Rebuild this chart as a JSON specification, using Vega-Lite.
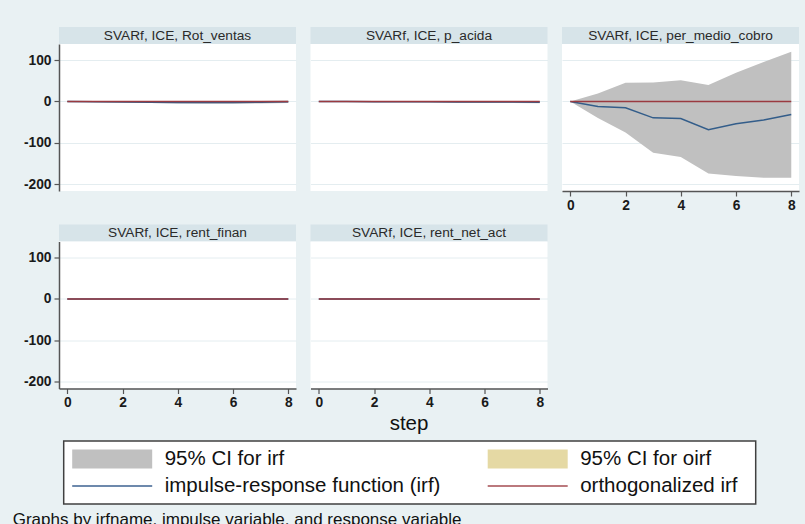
{
  "$schema": "https://vega.github.io/schema/vega-lite/v6.json",
  "background": "#e9f1f3",
  "padding": {"left": 12, "top": 27, "right": 7, "bottom": 0},
  "config": {
    "font": "Liberation Sans",
    "view": {"stroke": null, "fill": "white"},
    "axis": {
      "labelFont": "Liberation Sans",
      "labelFontSize": 13.8,
      "labelFontWeight": "bold",
      "labelColor": "#1a1a1a",
      "domainColor": "#555555",
      "domainWidth": 1.5,
      "tickColor": "#555555",
      "tickWidth": 1.2,
      "tickSize": 5,
      "gridColor": "#e4edf0",
      "gridWidth": 1,
      "labelExpr": "replace(datum.label, '\u2212', '-')"
    },
    "axisY": {"labelPadding": 3},
    "axisX": {"labelPadding": 2}
  },
  "datasets": {
    "irf": [
      {"p": "Rot_ventas", "step": 0, "irf": 0, "lo": 0, "hi": 0, "oirf": 0},
      {"p": "Rot_ventas", "step": 1, "irf": -0.6, "lo": -1.6, "hi": 0.4, "oirf": 0},
      {"p": "Rot_ventas", "step": 2, "irf": -1.2, "lo": -2.7, "hi": 0.3, "oirf": 0},
      {"p": "Rot_ventas", "step": 3, "irf": -1.8, "lo": -3.8, "hi": 0.2, "oirf": 0},
      {"p": "Rot_ventas", "step": 4, "irf": -2.2, "lo": -4.7, "hi": 0.3, "oirf": 0},
      {"p": "Rot_ventas", "step": 5, "irf": -2.4, "lo": -5.2, "hi": 0.4, "oirf": 0},
      {"p": "Rot_ventas", "step": 6, "irf": -2.2, "lo": -5.2, "hi": 0.8, "oirf": 0},
      {"p": "Rot_ventas", "step": 7, "irf": -1.6, "lo": -4.6, "hi": 1.4, "oirf": 0},
      {"p": "Rot_ventas", "step": 8, "irf": -0.6, "lo": -3.6, "hi": 2.4, "oirf": 0},
      {"p": "p_acida", "step": 0, "irf": 0, "lo": 0, "hi": 0, "oirf": 0},
      {"p": "p_acida", "step": 1, "irf": -0.2, "lo": -1.0, "hi": 0.6, "oirf": 0},
      {"p": "p_acida", "step": 2, "irf": -0.4, "lo": -1.6, "hi": 0.8, "oirf": 0},
      {"p": "p_acida", "step": 3, "irf": -0.6, "lo": -2.1, "hi": 0.9, "oirf": 0},
      {"p": "p_acida", "step": 4, "irf": -0.8, "lo": -2.6, "hi": 1.0, "oirf": 0},
      {"p": "p_acida", "step": 5, "irf": -1.0, "lo": -3.0, "hi": 1.0, "oirf": 0},
      {"p": "p_acida", "step": 6, "irf": -1.2, "lo": -3.4, "hi": 1.0, "oirf": 0},
      {"p": "p_acida", "step": 7, "irf": -1.5, "lo": -3.9, "hi": 0.9, "oirf": 0},
      {"p": "p_acida", "step": 8, "irf": -1.8, "lo": -4.4, "hi": 0.8, "oirf": 0},
      {"p": "per_medio_cobro", "step": 0, "irf": 0, "lo": 0, "hi": 0, "oirf": 0},
      {"p": "per_medio_cobro", "step": 1, "irf": -12, "lo": -40, "hi": 19, "oirf": 0},
      {"p": "per_medio_cobro", "step": 2, "irf": -15, "lo": -75, "hi": 45, "oirf": 0},
      {"p": "per_medio_cobro", "step": 3, "irf": -39.5, "lo": -123.5, "hi": 46, "oirf": 0},
      {"p": "per_medio_cobro", "step": 4, "irf": -41, "lo": -134, "hi": 51.5, "oirf": 0},
      {"p": "per_medio_cobro", "step": 5, "irf": -68, "lo": -173.5, "hi": 39.5, "oirf": 0},
      {"p": "per_medio_cobro", "step": 6, "irf": -54, "lo": -180, "hi": 69.5, "oirf": 0},
      {"p": "per_medio_cobro", "step": 7, "irf": -44.5, "lo": -184, "hi": 95, "oirf": 0},
      {"p": "per_medio_cobro", "step": 8, "irf": -31.5, "lo": -184, "hi": 120, "oirf": 0},
      {"p": "rent_finan", "step": 0, "irf": 0, "lo": 0, "hi": 0, "oirf": 0},
      {"p": "rent_finan", "step": 1, "irf": 0.1, "lo": -0.4, "hi": 0.6, "oirf": 0},
      {"p": "rent_finan", "step": 2, "irf": 0.2, "lo": -0.5, "hi": 0.9, "oirf": 0},
      {"p": "rent_finan", "step": 3, "irf": 0.2, "lo": -0.6, "hi": 1.0, "oirf": 0},
      {"p": "rent_finan", "step": 4, "irf": 0.2, "lo": -0.7, "hi": 1.1, "oirf": 0},
      {"p": "rent_finan", "step": 5, "irf": 0.2, "lo": -0.8, "hi": 1.2, "oirf": 0},
      {"p": "rent_finan", "step": 6, "irf": 0.1, "lo": -0.9, "hi": 1.1, "oirf": 0},
      {"p": "rent_finan", "step": 7, "irf": 0.1, "lo": -1.0, "hi": 1.2, "oirf": 0},
      {"p": "rent_finan", "step": 8, "irf": 0.1, "lo": -1.0, "hi": 1.2, "oirf": 0},
      {"p": "rent_net_act", "step": 0, "irf": 0, "lo": 0, "hi": 0, "oirf": 0},
      {"p": "rent_net_act", "step": 1, "irf": -0.1, "lo": -0.5, "hi": 0.3, "oirf": 0},
      {"p": "rent_net_act", "step": 2, "irf": -0.1, "lo": -0.6, "hi": 0.4, "oirf": 0},
      {"p": "rent_net_act", "step": 3, "irf": -0.2, "lo": -0.8, "hi": 0.4, "oirf": 0},
      {"p": "rent_net_act", "step": 4, "irf": -0.2, "lo": -0.9, "hi": 0.5, "oirf": 0},
      {"p": "rent_net_act", "step": 5, "irf": -0.2, "lo": -1.0, "hi": 0.6, "oirf": 0},
      {"p": "rent_net_act", "step": 6, "irf": -0.2, "lo": -1.0, "hi": 0.6, "oirf": 0},
      {"p": "rent_net_act", "step": 7, "irf": -0.1, "lo": -1.0, "hi": 0.8, "oirf": 0},
      {"p": "rent_net_act", "step": 8, "irf": -0.1, "lo": -1.0, "hi": 0.8, "oirf": 0}
    ],
    "leg": [
      {"label": "95% CI for irf", "c": 1, "r": 1, "k": "area"},
      {"label": "95% CI for oirf", "c": 2, "r": 1, "k": "area"},
      {"label": "impulse-response function (irf)", "c": 1, "r": 2, "k": "line"},
      {"label": "orthogonalized irf", "c": 2, "r": 2, "k": "line"}
    ]
  },
  "title": {
    "text": "Graphs by irfname, impulse variable, and response variable",
    "orient": "bottom", "anchor": "start", "frame": "group",
    "dx": -46.3, "offset": 7, "baseline": "top",
    "fontSize": 17, "fontWeight": "normal", "color": "#111111", "font": "Liberation Sans"
  },
  "spacing": 6,
  "vconcat": [
    {
      "spacing": 12.5,
      "vconcat": [
        {
          "spacing": 14.5,
          "hconcat": [
            {
              "spacing": 0,
              "vconcat": [
                {"width": 237, "height": 17, "view": {"fill": "#d7e4e9", "stroke": null},
                 "data": {"values": [{"t": "SVARf, ICE, Rot_ventas"}]},
                 "mark": {"type": "text", "fontSize": 13.7, "color": "#2a2a2a", "font": "Liberation Sans"},
                 "encoding": {"text": {"field": "t"}}},
                {"width": 237, "height": 147,
                 "data": {"name": "irf"},
                 "transform": [{"filter": "datum.p == 'Rot_ventas'"}],
                 "encoding": {"x": {"field": "step", "type": "quantitative", "scale": {"domain": [-0.3, 8.28], "nice": false, "zero": false}, "axis": null}},
                 "layer": [
                   {"mark": {"type": "area", "color": "#c0c0c0", "opacity": 1},
                    "encoding": {"y": {"field": "lo", "type": "quantitative", "scale": {"domain": [-216, 138.7], "nice": false, "zero": false},
                      "axis": {"values": [-200, -100, 0, 100], "grid": true, "title": null}},
                      "y2": {"field": "hi"}}},
                   {"mark": {"type": "line", "color": "#335d8a", "strokeWidth": 1.5},
                    "encoding": {"y": {"field": "irf", "type": "quantitative", "axis": {"values": [-200, -100, 0, 100], "grid": true, "title": null}}}},
                   {"mark": {"type": "line", "color": "#9a3a40", "strokeWidth": 1.5},
                    "encoding": {"y": {"field": "oirf", "type": "quantitative", "axis": {"values": [-200, -100, 0, 100], "grid": true, "title": null}}}}
                 ]}
              ]
            },
            {
              "spacing": 0,
              "vconcat": [
                {"width": 237, "height": 17, "view": {"fill": "#d7e4e9", "stroke": null},
                 "data": {"values": [{"t": "SVARf, ICE, p_acida"}]},
                 "mark": {"type": "text", "fontSize": 13.7, "color": "#2a2a2a", "font": "Liberation Sans"},
                 "encoding": {"text": {"field": "t"}}},
                {"width": 237, "height": 147,
                 "data": {"name": "irf"},
                 "transform": [{"filter": "datum.p == 'p_acida'"}],
                 "encoding": {"x": {"field": "step", "type": "quantitative", "scale": {"domain": [-0.3, 8.28], "nice": false, "zero": false}, "axis": null}},
                 "layer": [
                   {"mark": {"type": "area", "color": "#c0c0c0", "opacity": 1},
                    "encoding": {"y": {"field": "lo", "type": "quantitative", "scale": {"domain": [-216, 138.7], "nice": false, "zero": false},
                      "axis": {"values": [-200, -100, 0, 100], "grid": true, "labels": false, "ticks": false, "domain": false, "title": null}},
                      "y2": {"field": "hi"}}},
                   {"mark": {"type": "line", "color": "#335d8a", "strokeWidth": 1.5},
                    "encoding": {"y": {"field": "irf", "type": "quantitative", "axis": {"values": [-200, -100, 0, 100], "grid": true, "labels": false, "ticks": false, "domain": false, "title": null}}}},
                   {"mark": {"type": "line", "color": "#9a3a40", "strokeWidth": 1.5},
                    "encoding": {"y": {"field": "oirf", "type": "quantitative", "axis": {"values": [-200, -100, 0, 100], "grid": true, "labels": false, "ticks": false, "domain": false, "title": null}}}}
                 ]}
              ]
            },
            {
              "spacing": 0,
              "vconcat": [
                {"width": 237, "height": 17, "view": {"fill": "#d7e4e9", "stroke": null},
                 "data": {"values": [{"t": "SVARf, ICE, per_medio_cobro"}]},
                 "mark": {"type": "text", "fontSize": 13.7, "color": "#2a2a2a", "font": "Liberation Sans"},
                 "encoding": {"text": {"field": "t"}}},
                {"width": 237, "height": 147,
                 "data": {"name": "irf"},
                 "transform": [{"filter": "datum.p == 'per_medio_cobro'"}],
                 "encoding": {"x": {"field": "step", "type": "quantitative", "scale": {"domain": [-0.3, 8.28], "nice": false, "zero": false},
                   "axis": {"values": [0, 2, 4, 6, 8], "format": "d", "grid": false, "title": null}}},
                 "layer": [
                   {"mark": {"type": "area", "color": "#c0c0c0", "opacity": 1},
                    "encoding": {"y": {"field": "lo", "type": "quantitative", "scale": {"domain": [-216, 138.7], "nice": false, "zero": false},
                      "axis": {"values": [-200, -100, 0, 100], "grid": true, "labels": false, "ticks": false, "domain": false, "title": null}},
                      "y2": {"field": "hi"}}},
                   {"mark": {"type": "line", "color": "#335d8a", "strokeWidth": 1.5},
                    "encoding": {"y": {"field": "irf", "type": "quantitative", "axis": {"values": [-200, -100, 0, 100], "grid": true, "labels": false, "ticks": false, "domain": false, "title": null}}}},
                   {"mark": {"type": "line", "color": "#9a3a40", "strokeWidth": 1.5},
                    "encoding": {"y": {"field": "oirf", "type": "quantitative", "axis": {"values": [-200, -100, 0, 100], "grid": true, "labels": false, "ticks": false, "domain": false, "title": null}}}}
                 ]}
              ]
            }
          ]
        },
        {
          "spacing": 14.5,
          "hconcat": [
            {
              "spacing": 0,
              "vconcat": [
                {"width": 237, "height": 17, "view": {"fill": "#d7e4e9", "stroke": null},
                 "data": {"values": [{"t": "SVARf, ICE, rent_finan"}]},
                 "mark": {"type": "text", "fontSize": 13.7, "color": "#2a2a2a", "font": "Liberation Sans"},
                 "encoding": {"text": {"field": "t"}}},
                {"width": 237, "height": 147,
                 "data": {"name": "irf"},
                 "transform": [{"filter": "datum.p == 'rent_finan'"}],
                 "encoding": {"x": {"field": "step", "type": "quantitative", "scale": {"domain": [-0.3, 8.28], "nice": false, "zero": false},
                   "axis": {"values": [0, 2, 4, 6, 8], "format": "d", "grid": false, "title": null}}},
                 "layer": [
                   {"mark": {"type": "area", "color": "#c0c0c0", "opacity": 1},
                    "encoding": {"y": {"field": "lo", "type": "quantitative", "scale": {"domain": [-216, 138.7], "nice": false, "zero": false},
                      "axis": {"values": [-200, -100, 0, 100], "grid": true, "title": null}},
                      "y2": {"field": "hi"}}},
                   {"mark": {"type": "line", "color": "#335d8a", "strokeWidth": 1.5},
                    "encoding": {"y": {"field": "irf", "type": "quantitative", "axis": {"values": [-200, -100, 0, 100], "grid": true, "title": null}}}},
                   {"mark": {"type": "line", "color": "#9a3a40", "strokeWidth": 1.5},
                    "encoding": {"y": {"field": "oirf", "type": "quantitative", "axis": {"values": [-200, -100, 0, 100], "grid": true, "title": null}}}}
                 ]}
              ]
            },
            {
              "spacing": 0,
              "vconcat": [
                {"width": 237, "height": 17, "view": {"fill": "#d7e4e9", "stroke": null},
                 "data": {"values": [{"t": "SVARf, ICE, rent_net_act"}]},
                 "mark": {"type": "text", "fontSize": 13.7, "color": "#2a2a2a", "font": "Liberation Sans"},
                 "encoding": {"text": {"field": "t"}}},
                {"width": 237, "height": 147,
                 "data": {"name": "irf"},
                 "transform": [{"filter": "datum.p == 'rent_net_act'"}],
                 "encoding": {"x": {"field": "step", "type": "quantitative", "scale": {"domain": [-0.3, 8.28], "nice": false, "zero": false},
                   "axis": {"values": [0, 2, 4, 6, 8], "format": "d", "grid": false, "title": "step",
                     "titleFontSize": 20.5, "titleFontWeight": "normal", "titleColor": "#111111", "titleFont": "Liberation Sans",
                     "titleX": 98, "titleY": 41, "titleAlign": "center", "titleBaseline": "alphabetic"}}},
                 "layer": [
                   {"mark": {"type": "area", "color": "#c0c0c0", "opacity": 1},
                    "encoding": {"y": {"field": "lo", "type": "quantitative", "scale": {"domain": [-216, 138.7], "nice": false, "zero": false},
                      "axis": {"values": [-200, -100, 0, 100], "grid": true, "labels": false, "ticks": false, "domain": false, "title": null}},
                      "y2": {"field": "hi"}}},
                   {"mark": {"type": "line", "color": "#335d8a", "strokeWidth": 1.5},
                    "encoding": {"y": {"field": "irf", "type": "quantitative", "axis": {"values": [-200, -100, 0, 100], "grid": true, "labels": false, "ticks": false, "domain": false, "title": null}}}},
                   {"mark": {"type": "line", "color": "#9a3a40", "strokeWidth": 1.5},
                    "encoding": {"y": {"field": "oirf", "type": "quantitative", "axis": {"values": [-200, -100, 0, 100], "grid": true, "labels": false, "ticks": false, "domain": false, "title": null}}}}
                 ]}
              ]
            }
          ]
        }
      ]
    },
    {
      "spacing": 2.7,
      "hconcat": [
        {"width": 1, "height": 63, "view": {"fill": "transparent", "stroke": null},
         "data": {"values": []},
         "mark": {"type": "point", "opacity": 0}},
        {
          "width": 692, "height": 63,
          "view": {"fill": "white", "stroke": "#404040", "strokeWidth": 1.5},
          "data": {"name": "leg"},
          "encoding": {
            "x": {"field": "c", "type": "ordinal", "scale": {"type": "point", "domain": [1, 2], "range": [48.5, 464], "padding": 0}, "axis": null},
            "y": {"field": "r", "type": "ordinal", "scale": {"type": "point", "domain": [1, 2], "range": [18, 45], "padding": 0}, "axis": null}
          },
          "layer": [
            {"transform": [{"filter": "datum.k == 'area'"}],
             "mark": {"type": "point", "shape": "M-1,-0.2375H1V0.2375H-1Z", "size": 6400, "filled": true, "opacity": 1, "strokeWidth": 0},
             "encoding": {"color": {"field": "label", "type": "nominal",
               "scale": {"domain": ["95% CI for irf", "95% CI for oirf", "impulse-response function (irf)", "orthogonalized irf"],
                         "range": ["#c0c0c0", "#e5d9a4", "#3d6290", "#a54c52"]}, "legend": null}}},
            {"transform": [{"filter": "datum.k == 'line'"}],
             "mark": {"type": "point", "shape": "M-1,0H1", "size": 6400, "filled": false, "opacity": 1, "strokeWidth": 1.5},
             "encoding": {"color": {"field": "label", "type": "nominal",
               "scale": {"domain": ["95% CI for irf", "95% CI for oirf", "impulse-response function (irf)", "orthogonalized irf"],
                         "range": ["#c0c0c0", "#e5d9a4", "#3d6290", "#a54c52"]}, "legend": null}}},
            {"mark": {"type": "text", "align": "left", "baseline": "middle", "dx": 52.5, "fontSize": 20.5, "color": "#111111", "font": "Liberation Sans"},
             "encoding": {"text": {"field": "label"}}}
          ]
        }
      ]
    }
  ]
}
